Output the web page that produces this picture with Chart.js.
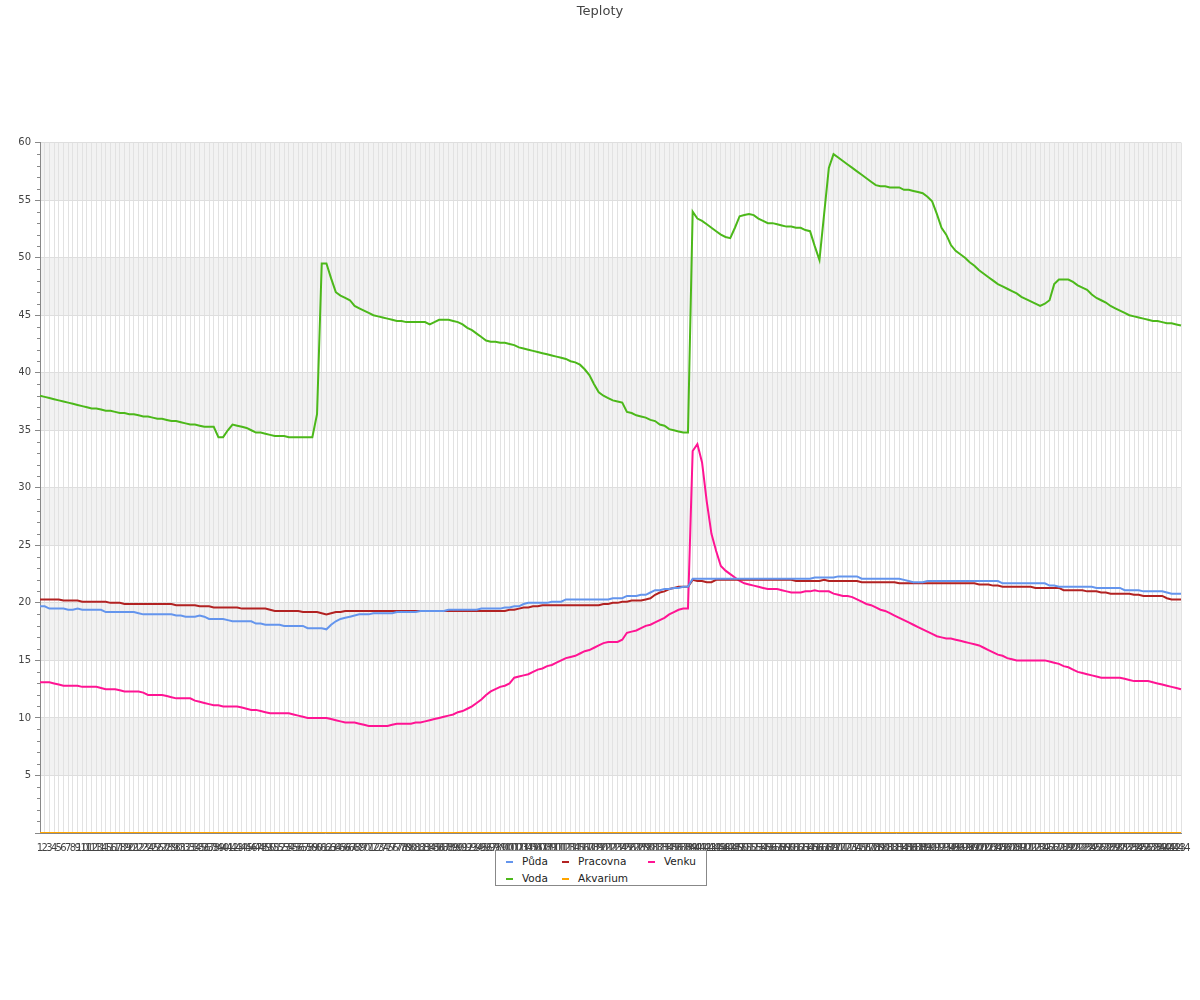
<!DOCTYPE html>
<html lang="cs">
<head>
<meta charset="utf-8">
<title>Teploty</title>
<script src="https://cdn.jsdelivr.net/npm/chart.js@4/dist/chart.umd.min.js"></script>
<style>
    html, body { margin: 0; padding: 0; background: #fff; }
    #wrap { position: relative; width: 1200px; height: 1000px; }
    #legend {
        position: absolute; left: 495px; top: 850px; width: 212px; height: 36px;
        box-sizing: border-box; border: 1px solid #888; background: #fff;
        font-family: "DejaVu Sans", sans-serif; font-size: 10.5px; color: #222;
    }
    .item { position: absolute; height: 14px; line-height: 14px; white-space: nowrap; }
    .item i { display: inline-block; width: 7px; height: 2px; vertical-align: middle; margin-right: 9px; }
</style>
</head>
<body>
<div id="wrap">
    <canvas id="chart" width="1200" height="1000"></canvas>
    <div id="legend"></div>
</div>
<script>
// x osa: poradove cislo mereni
const labels = [
    1, 2, 3, 4, 5, 6, 7, 8, 9, 10, 11, 12, 13, 14, 15, 16, 17, 18, 19, 20,
    21, 22, 23, 24, 25, 26, 27, 28, 29, 30, 31, 32, 33, 34, 35, 36, 37, 38, 39, 40,
    41, 42, 43, 44, 45, 46, 47, 48, 49, 50, 51, 52, 53, 54, 55, 56, 57, 58, 59, 60,
    61, 62, 63, 64, 65, 66, 67, 68, 69, 70, 71, 72, 73, 74, 75, 76, 77, 78, 79, 80,
    81, 82, 83, 84, 85, 86, 87, 88, 89, 90, 91, 92, 93, 94, 95, 96, 97, 98, 99, 100,
    101, 102, 103, 104, 105, 106, 107, 108, 109, 110, 111, 112, 113, 114, 115, 116, 117, 118, 119, 120,
    121, 122, 123, 124, 125, 126, 127, 128, 129, 130, 131, 132, 133, 134, 135, 136, 137, 138, 139, 140,
    141, 142, 143, 144, 145, 146, 147, 148, 149, 150, 151, 152, 153, 154, 155, 156, 157, 158, 159, 160,
    161, 162, 163, 164, 165, 166, 167, 168, 169, 170, 171, 172, 173, 174, 175, 176, 177, 178, 179, 180,
    181, 182, 183, 184, 185, 186, 187, 188, 189, 190, 191, 192, 193, 194, 195, 196, 197, 198, 199, 200,
    201, 202, 203, 204, 205, 206, 207, 208, 209, 210, 211, 212, 213, 214, 215, 216, 217, 218, 219, 220,
    221, 222, 223, 224, 225, 226, 227, 228, 229, 230, 231, 232, 233, 234, 235, 236, 237, 238, 239, 240,
    241, 242, 243, 244
];

const puda = [
    19.7, 19.7, 19.5, 19.5, 19.5, 19.5, 19.4, 19.4, 19.5, 19.4,
    19.4, 19.4, 19.4, 19.4, 19.2, 19.2, 19.2, 19.2, 19.2, 19.2,
    19.2, 19.1, 19.0, 19.0, 19.0, 19.0, 19.0, 19.0, 19.0, 18.9,
    18.9, 18.8, 18.8, 18.8, 18.9, 18.8, 18.6, 18.6, 18.6, 18.6,
    18.5, 18.4, 18.4, 18.4, 18.4, 18.4, 18.2, 18.2, 18.1, 18.1,
    18.1, 18.1, 18.0, 18.0, 18.0, 18.0, 18.0, 17.8, 17.8, 17.8,
    17.8, 17.7, 18.1, 18.4, 18.6, 18.7, 18.8, 18.9, 19.0, 19.0,
    19.0, 19.1, 19.1, 19.1, 19.1, 19.1, 19.2, 19.2, 19.2, 19.2,
    19.2, 19.3, 19.3, 19.3, 19.3, 19.3, 19.3, 19.4, 19.4, 19.4,
    19.4, 19.4, 19.4, 19.4, 19.5, 19.5, 19.5, 19.5, 19.5, 19.6,
    19.6, 19.7, 19.7, 19.9, 20.0, 20.0, 20.0, 20.0, 20.0, 20.1,
    20.1, 20.1, 20.3, 20.3, 20.3, 20.3, 20.3, 20.3, 20.3, 20.3,
    20.3, 20.3, 20.4, 20.4, 20.4, 20.6, 20.6, 20.6, 20.7, 20.7,
    20.9, 21.1, 21.1, 21.2, 21.2, 21.3, 21.3, 21.4, 21.4, 22.1,
    22.1, 22.1, 22.1, 22.1, 22.1, 22.1, 22.1, 22.1, 22.1, 22.1,
    22.1, 22.1, 22.1, 22.1, 22.1, 22.1, 22.1, 22.1, 22.1, 22.1,
    22.1, 22.1, 22.1, 22.1, 22.1, 22.2, 22.2, 22.2, 22.2, 22.2,
    22.3, 22.3, 22.3, 22.3, 22.3, 22.1, 22.1, 22.1, 22.1, 22.1,
    22.1, 22.1, 22.1, 22.1, 22.0, 21.9, 21.8, 21.8, 21.8, 21.9,
    21.9, 21.9, 21.9, 21.9, 21.9, 21.9, 21.9, 21.9, 21.9, 21.9,
    21.9, 21.9, 21.9, 21.9, 21.9, 21.7, 21.7, 21.7, 21.7, 21.7,
    21.7, 21.7, 21.7, 21.7, 21.7, 21.5, 21.5, 21.4, 21.4, 21.4,
    21.4, 21.4, 21.4, 21.4, 21.4, 21.3, 21.3, 21.3, 21.3, 21.3,
    21.3, 21.1, 21.1, 21.1, 21.1, 21.0, 21.0, 21.0, 21.0, 21.0,
    20.9, 20.8, 20.8, 20.8
];

const voda = [
    38.0, 37.9, 37.8, 37.7, 37.6, 37.5, 37.4, 37.3, 37.2, 37.1,
    37.0, 36.9, 36.9, 36.8, 36.7, 36.7, 36.6, 36.5, 36.5, 36.4,
    36.4, 36.3, 36.2, 36.2, 36.1, 36.0, 36.0, 35.9, 35.8, 35.8,
    35.7, 35.6, 35.5, 35.5, 35.4, 35.3, 35.3, 35.3, 34.4, 34.4,
    35.0, 35.5, 35.4, 35.3, 35.2, 35.0, 34.8, 34.8, 34.7, 34.6,
    34.5, 34.5, 34.5, 34.4, 34.4, 34.4, 34.4, 34.4, 34.4, 36.4,
    49.5, 49.5, 48.2, 47.0, 46.7, 46.5, 46.3, 45.8, 45.6, 45.4,
    45.2, 45.0, 44.9, 44.8, 44.7, 44.6, 44.5, 44.5, 44.4, 44.4,
    44.4, 44.4, 44.4, 44.2, 44.4, 44.6, 44.6, 44.6, 44.5, 44.4,
    44.2, 43.9, 43.7, 43.4, 43.1, 42.8, 42.7, 42.7, 42.6, 42.6,
    42.5, 42.4, 42.2, 42.1, 42.0, 41.9, 41.8, 41.7, 41.6, 41.5,
    41.4, 41.3, 41.2, 41.0, 40.9, 40.7, 40.3, 39.8, 39.0, 38.3,
    38.0, 37.8, 37.6, 37.5, 37.4, 36.6, 36.5, 36.3, 36.2, 36.1,
    35.9, 35.8, 35.5, 35.4, 35.1, 35.0, 34.9, 34.8, 34.8, 54.0,
    53.4, 53.2, 52.9, 52.6, 52.3, 52.0, 51.8, 51.7, 52.6, 53.6,
    53.7, 53.8, 53.7, 53.4, 53.2, 53.0, 53.0, 52.9, 52.8, 52.7,
    52.7, 52.6, 52.6, 52.4, 52.3, 51.0, 49.8, 53.8, 57.8, 59.0,
    58.7, 58.4, 58.1, 57.8, 57.5, 57.2, 56.9, 56.6, 56.3, 56.2,
    56.2, 56.1, 56.1, 56.1, 55.9, 55.9, 55.8, 55.7, 55.6, 55.3,
    54.9, 53.8, 52.6, 52.0, 51.1, 50.6, 50.3, 50.0, 49.6, 49.3,
    48.9, 48.6, 48.3, 48.0, 47.7, 47.5, 47.3, 47.1, 46.9, 46.6,
    46.4, 46.2, 46.0, 45.8, 46.0, 46.3, 47.7, 48.1, 48.1, 48.1,
    47.9, 47.6, 47.4, 47.2, 46.8, 46.5, 46.3, 46.1, 45.8, 45.6,
    45.4, 45.2, 45.0, 44.9, 44.8, 44.7, 44.6, 44.5, 44.5, 44.4,
    44.3, 44.3, 44.2, 44.1
];

const pracovna = [
    20.3, 20.3, 20.3, 20.3, 20.3, 20.2, 20.2, 20.2, 20.2, 20.1,
    20.1, 20.1, 20.1, 20.1, 20.1, 20.0, 20.0, 20.0, 19.9, 19.9,
    19.9, 19.9, 19.9, 19.9, 19.9, 19.9, 19.9, 19.9, 19.9, 19.8,
    19.8, 19.8, 19.8, 19.8, 19.7, 19.7, 19.7, 19.6, 19.6, 19.6,
    19.6, 19.6, 19.6, 19.5, 19.5, 19.5, 19.5, 19.5, 19.5, 19.4,
    19.3, 19.3, 19.3, 19.3, 19.3, 19.3, 19.2, 19.2, 19.2, 19.2,
    19.1, 19.0, 19.1, 19.2, 19.2, 19.3, 19.3, 19.3, 19.3, 19.3,
    19.3, 19.3, 19.3, 19.3, 19.3, 19.3, 19.3, 19.3, 19.3, 19.3,
    19.3, 19.3, 19.3, 19.3, 19.3, 19.3, 19.3, 19.3, 19.3, 19.3,
    19.3, 19.3, 19.3, 19.3, 19.3, 19.3, 19.3, 19.3, 19.3, 19.3,
    19.4, 19.4, 19.5, 19.6, 19.6, 19.7, 19.7, 19.8, 19.8, 19.8,
    19.8, 19.8, 19.8, 19.8, 19.8, 19.8, 19.8, 19.8, 19.8, 19.8,
    19.9, 19.9, 20.0, 20.0, 20.1, 20.1, 20.2, 20.2, 20.2, 20.3,
    20.4, 20.7, 20.9, 21.0, 21.2, 21.3, 21.4, 21.4, 21.4, 22.0,
    21.9, 21.9, 21.8, 21.8, 22.0, 22.0, 22.0, 22.0, 22.0, 22.0,
    22.0, 22.0, 22.0, 22.0, 22.0, 22.0, 22.0, 22.0, 22.0, 22.0,
    22.0, 21.9, 21.9, 21.9, 21.9, 21.9, 21.9, 22.0, 21.9, 21.9,
    21.9, 21.9, 21.9, 21.9, 21.9, 21.8, 21.8, 21.8, 21.8, 21.8,
    21.8, 21.8, 21.8, 21.7, 21.7, 21.7, 21.7, 21.7, 21.7, 21.7,
    21.7, 21.7, 21.7, 21.7, 21.7, 21.7, 21.7, 21.7, 21.7, 21.7,
    21.6, 21.6, 21.6, 21.5, 21.5, 21.4, 21.4, 21.4, 21.4, 21.4,
    21.4, 21.4, 21.3, 21.3, 21.3, 21.3, 21.3, 21.3, 21.1, 21.1,
    21.1, 21.1, 21.1, 21.0, 21.0, 21.0, 20.9, 20.9, 20.8, 20.8,
    20.8, 20.8, 20.8, 20.7, 20.7, 20.6, 20.6, 20.6, 20.6, 20.6,
    20.4, 20.3, 20.3, 20.3
];

const akvarium = [
    0, 0, 0, 0, 0, 0, 0, 0, 0, 0, 0, 0, 0, 0, 0, 0, 0, 0, 0, 0,
    0, 0, 0, 0, 0, 0, 0, 0, 0, 0, 0, 0, 0, 0, 0, 0, 0, 0, 0, 0,
    0, 0, 0, 0, 0, 0, 0, 0, 0, 0, 0, 0, 0, 0, 0, 0, 0, 0, 0, 0,
    0, 0, 0, 0, 0, 0, 0, 0, 0, 0, 0, 0, 0, 0, 0, 0, 0, 0, 0, 0,
    0, 0, 0, 0, 0, 0, 0, 0, 0, 0, 0, 0, 0, 0, 0, 0, 0, 0, 0, 0,
    0, 0, 0, 0, 0, 0, 0, 0, 0, 0, 0, 0, 0, 0, 0, 0, 0, 0, 0, 0,
    0, 0, 0, 0, 0, 0, 0, 0, 0, 0, 0, 0, 0, 0, 0, 0, 0, 0, 0, 0,
    0, 0, 0, 0, 0, 0, 0, 0, 0, 0, 0, 0, 0, 0, 0, 0, 0, 0, 0, 0,
    0, 0, 0, 0, 0, 0, 0, 0, 0, 0, 0, 0, 0, 0, 0, 0, 0, 0, 0, 0,
    0, 0, 0, 0, 0, 0, 0, 0, 0, 0, 0, 0, 0, 0, 0, 0, 0, 0, 0, 0,
    0, 0, 0, 0, 0, 0, 0, 0, 0, 0, 0, 0, 0, 0, 0, 0, 0, 0, 0, 0,
    0, 0, 0, 0, 0, 0, 0, 0, 0, 0, 0, 0, 0, 0, 0, 0, 0, 0, 0, 0,
    0, 0, 0, 0
];

const venku = [
    13.1, 13.1, 13.1, 13.0, 12.9, 12.8, 12.8, 12.8, 12.8, 12.7,
    12.7, 12.7, 12.7, 12.6, 12.5, 12.5, 12.5, 12.4, 12.3, 12.3,
    12.3, 12.3, 12.2, 12.0, 12.0, 12.0, 12.0, 11.9, 11.8, 11.7,
    11.7, 11.7, 11.7, 11.5, 11.4, 11.3, 11.2, 11.1, 11.1, 11.0,
    11.0, 11.0, 11.0, 10.9, 10.8, 10.7, 10.7, 10.6, 10.5, 10.4,
    10.4, 10.4, 10.4, 10.4, 10.3, 10.2, 10.1, 10.0, 10.0, 10.0,
    10.0, 10.0, 9.9, 9.8, 9.7, 9.6, 9.6, 9.6, 9.5, 9.4,
    9.3, 9.3, 9.3, 9.3, 9.3, 9.4, 9.5, 9.5, 9.5, 9.5,
    9.6, 9.6, 9.7, 9.8, 9.9, 10.0, 10.1, 10.2, 10.3, 10.5,
    10.6, 10.8, 11.0, 11.3, 11.6, 12.0, 12.3, 12.5, 12.7, 12.8,
    13.0, 13.5, 13.6, 13.7, 13.8, 14.0, 14.2, 14.3, 14.5, 14.6,
    14.8, 15.0, 15.2, 15.3, 15.4, 15.6, 15.8, 15.9, 16.1, 16.3,
    16.5, 16.6, 16.6, 16.6, 16.8, 17.4, 17.5, 17.6, 17.8, 18.0,
    18.1, 18.3, 18.5, 18.7, 19.0, 19.2, 19.4, 19.5, 19.5, 33.2,
    33.8, 32.2, 28.8, 26.0, 24.5, 23.2, 22.8, 22.5, 22.2, 21.9,
    21.7, 21.6, 21.5, 21.4, 21.3, 21.2, 21.2, 21.2, 21.1, 21.0,
    20.9, 20.9, 20.9, 21.0, 21.0, 21.1, 21.0, 21.0, 21.0, 20.8,
    20.7, 20.6, 20.6, 20.5, 20.3, 20.1, 19.9, 19.8, 19.6, 19.4,
    19.3, 19.1, 18.9, 18.7, 18.5, 18.3, 18.1, 17.9, 17.7, 17.5,
    17.3, 17.1, 17.0, 16.9, 16.9, 16.8, 16.7, 16.6, 16.5, 16.4,
    16.3, 16.1, 15.9, 15.7, 15.5, 15.4, 15.2, 15.1, 15.0, 15.0,
    15.0, 15.0, 15.0, 15.0, 15.0, 14.9, 14.8, 14.7, 14.5, 14.4,
    14.2, 14.0, 13.9, 13.8, 13.7, 13.6, 13.5, 13.5, 13.5, 13.5,
    13.5, 13.4, 13.3, 13.2, 13.2, 13.2, 13.2, 13.1, 13.0, 12.9,
    12.8, 12.7, 12.6, 12.5
];

// poradi jako v legende (po sloupcich)
const series = [
    { label: 'Půda', data: puda, color: '#6495ed', col: 0, row: 0 },
    { label: 'Voda', data: voda, color: '#4cb81a', col: 0, row: 1 },
    { label: 'Pracovna', data: pracovna, color: '#b22222', col: 1, row: 0 },
    { label: 'Akvarium', data: akvarium, color: '#ffa500', col: 1, row: 1 },
    { label: 'Venku', data: venku, color: '#ff1493', col: 2, row: 0 }
];

// stridave sede pasy po 5 stupnich
const bandsPlugin = {
    id: 'bands',
    beforeDraw(chart) {
        const { ctx, chartArea: a, scales: { y } } = chart;
        ctx.save();
        ctx.fillStyle = '#f2f2f2';
        for (let v = 5; v < y.max; v += 10) {
            const top = y.getPixelForValue(v + 5);
            const bottom = y.getPixelForValue(v);
            ctx.fillRect(a.left, top, a.right - a.left, bottom - top);
        }
        ctx.restore();
    }
};

// male vedlejsi carky na ose y po 1 stupni
const minorTicksPlugin = {
    id: 'minorTicks',
    afterDraw(chart) {
        const { ctx, scales: { y } } = chart;
        ctx.save();
        ctx.strokeStyle = '#888';
        ctx.lineWidth = 1;
        for (let v = y.min; v <= y.max; v++) {
            if (v % 5 === 0) continue;
            const py = Math.round(y.getPixelForValue(v)) + 0.5;
            ctx.beginPath();
            ctx.moveTo(y.right - 3, py);
            ctx.lineTo(y.right, py);
            ctx.stroke();
        }
        ctx.restore();
    }
};

Chart.defaults.font.family = '"DejaVu Sans", sans-serif';
Chart.defaults.color = '#444';

new Chart(document.getElementById('chart'), {
    type: 'line',
    data: {
        labels: labels,
        datasets: series.map(s => ({
            label: s.label,
            data: s.data,
            borderColor: s.color,
            backgroundColor: s.color,
            borderWidth: 2,
            pointRadius: 0,
            tension: 0,
            fill: false
        }))
    },
    options: {
        responsive: false,
        animation: false,
        layout: { padding: { left: 19, right: 19, top: 0, bottom: 0 } },
        plugins: {
            legend: { display: false },
            tooltip: { enabled: false },
            title: {
                display: true,
                text: 'Teploty',
                color: '#444',
                font: { size: 13, weight: 'normal' },
                padding: { top: 4, bottom: 123 }
            }
        },
        scales: {
            x: {
                grid: { color: '#e2e2e2', drawTicks: false },
                border: { color: '#888' },
                ticks: {
                    autoSkip: false,
                    maxRotation: 0,
                    minRotation: 0,
                    padding: 9,
                    color: '#444',
                    font: { size: 10 }
                },
                afterFit: (scale) => { scale.height = 167; }
            },
            y: {
                min: 0,
                max: 60,
                grid: { color: '#dedede', tickColor: '#888', tickLength: 5 },
                border: { color: '#888' },
                ticks: {
                    stepSize: 5,
                    autoSkip: false,
                    padding: 4,
                    color: '#444',
                    font: { size: 10 },
                    callback: (v) => (v === 0 ? '' : v)
                },
                afterFit: (scale) => { scale.width = 21; }
            }
        }
    },
    plugins: [bandsPlugin, minorTicksPlugin]
});

// legenda ve trech sloupcich
const legend = document.getElementById('legend');
const colLeft = [10, 66, 152];
const rowTop = [3, 20];
series.forEach(s => {
    const el = document.createElement('div');
    el.className = 'item';
    el.style.left = colLeft[s.col] + 'px';
    el.style.top = rowTop[s.row] + 'px';
    el.innerHTML = '<i style="background:' + s.color + '"></i>' + s.label;
    legend.appendChild(el);
});
</script>
</body>
</html>
